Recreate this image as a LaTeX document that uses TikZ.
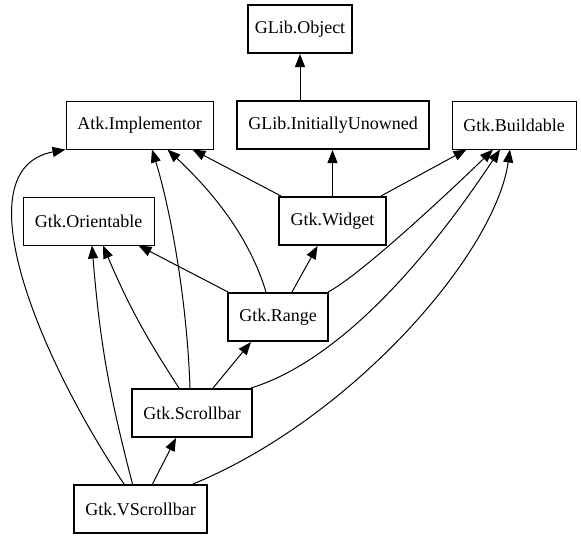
\documentclass[tikz,border=0pt]{standalone}
\usepackage{fontspec}
\setmainfont{Liberation Serif}
\usetikzlibrary{arrows.meta, positioning}

\begin{document}
\begin{tikzpicture}[
  x=1pt, y=1pt,
  iface/.style = {draw, line width=1pt, minimum height=48pt, inner sep=0pt},
  klass/.style = {iface, line width=2pt},
  inherit/.style = {line width=1pt, -{Triangle[length=13pt, width=10pt]}},
  every node/.style = {font=\fontsize{18}{20}\selectfont}
]

\useasboundingbox (0,0) rectangle (581,-539);

% Classes and interfaces
\node[klass, minimum width=104pt] (obj) at (300,-29) {GLib.Object};
\node[iface, minimum width=147pt] (atk) at (139.5,-125) {Atk.Implementor};
\node[klass, minimum width=192pt] (unowned) at (333,-125) {GLib.InitiallyUnowned};
\node[iface, minimum width=124pt] (build) at (514,-125) {Gtk.Buildable};
\node[iface, minimum width=131pt] (orient) at (88.5,-221) {Gtk.Orientable};
\node[klass, minimum width=107pt] (widget) at (332.5,-221) {Gtk.Widget};
\node[klass, minimum width=100pt] (range) at (278,-317) {Gtk.Range};
\node[klass, minimum width=120pt] (scroll) at (192,-413) {Gtk.Scrollbar};
\node[klass, minimum width=133pt] (vscroll) at (140.5,-509) {Gtk.VScrollbar};

% Gtk.Widget and up
\draw[inherit] (obj.south |- unowned.north) -- (obj.south);
\draw[inherit] (widget.north) -- (widget.north |- unowned.south);
\draw[inherit] ([xshift=3pt]widget.north west) -- ([xshift=-21pt]atk.south east);
\draw[inherit] ([xshift=-6pt]widget.north east) -- ([xshift=15pt]build.south west);

% Gtk.Range
\draw[inherit] ([xshift=14pt]range.north) -- ([xshift=-15pt]widget.south);
\draw[inherit] ([xshift=1pt]range.north west) -- ([xshift=-16pt]orient.south east);
\draw[inherit] ([xshift=-12pt]range.north) .. controls +(-16,53) and +(48,-45) .. ([xshift=28pt]atk.south);
\draw[inherit] ([xshift=-1pt]range.north east) .. controls +(33,17) and +(-38,-37) .. ([xshift=-21pt]build.south);

% Gtk.Scrollbar
\draw[inherit] ([xshift=21pt]scroll.north) -- ([xshift=-27pt]range.south);
\draw[inherit] ([xshift=-13pt]scroll.north) to[bend left=5] ([xshift=14.5pt]orient.south);
\draw[inherit] ([xshift=-2pt]scroll.north) .. controls +(-3,89) and +(18,-58) .. ([xshift=12.5pt]atk.south);
\draw[inherit] ([xshift=-2pt]scroll.north east) .. controls +(110,34) and +(-40,-60) .. ([xshift=-14pt]build.south);

% Gtk.VScrollbar
\draw[inherit] ([xshift=12pt]vscroll.north) -- ([xshift=-16pt]scroll.south);
\draw[inherit] ([xshift=-8pt]vscroll.north) to[bend left=5] ([xshift=3.5pt]orient.south);
\draw[inherit] ([xshift=-16.5pt]vscroll.north) .. controls +(-84,125) and +(-105,-20) .. (atk.south west);
\draw[inherit] ([xshift=-15pt]vscroll.north east) .. controls +(158,65) and +(-15,-105) .. ([xshift=-4pt]build.south);

\end{tikzpicture}
\end{document}
